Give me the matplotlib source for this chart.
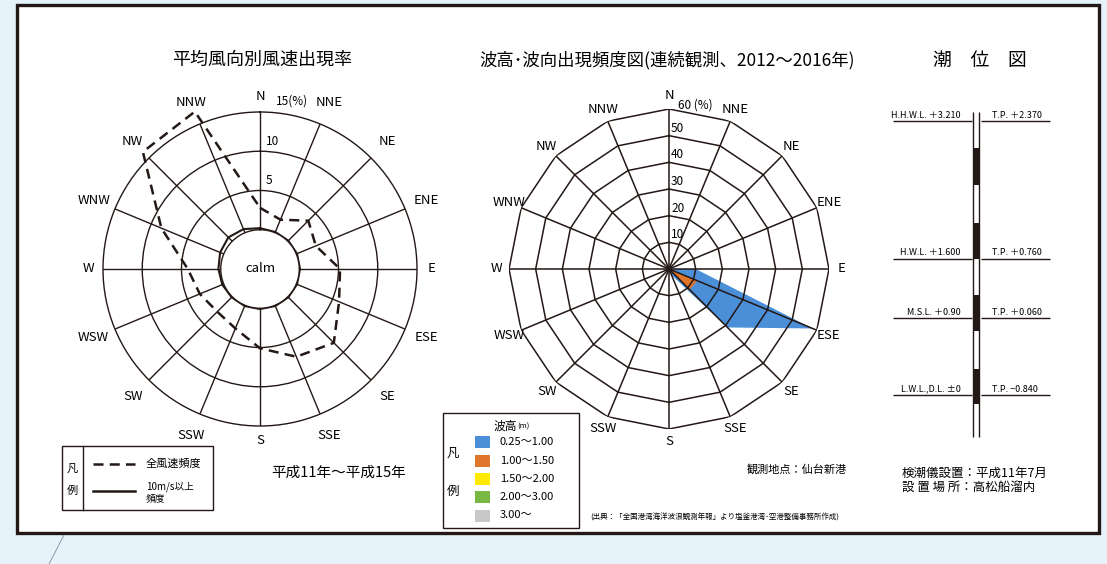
import numpy as np
import matplotlib
matplotlib.use('Agg')
import matplotlib.pyplot as plt
from matplotlib.patches import Rectangle

plt.rcParams['font.family'] = ['Noto Sans CJK JP', 'DejaVu Sans']

# ---- data ----
directions = ['N', 'NNE', 'NE', 'ENE', 'E', 'ESE', 'SE', 'SSE',
              'S', 'SSW', 'SW', 'WSW', 'W', 'WNW', 'NW', 'NNW']

# wind rose (%), calm circle = 0
wind_all = [2.8, 1.8, 3.7, 2.7, 5.2, 5.9, 8.3, 7.1,
            5.1, 3.2, 2.7, 3.3, 4.2, 8.6, 16.1, 16.7]
wind_strong = [0.2, 0.1, 0.1, 0.1, 0.1, 0.1, 0.1, 0.1,
               0.1, 0.1, 0.1, 0.2, 0.3, 0.5, 0.7, 0.5]
wind_rings = [5, 10]

# wave rose (%) per wave height class
wave_classes = ['0.25～1.00', '1.00～1.50', '1.50～2.00', '2.00～3.00', '3.00～']
wave_colors = ['#4a8fd8', '#e0762c', '#ffea00', '#78b843', '#c8c8c8']
wave_025_100 = [0, 0, 0, 0, 9.7, 46.9, 20.0, 2.0, 0.5, 0, 0, 0, 0, 0, 0, 0]
wave_100_150 = [0, 0, 0, 0, 0.3, 10.4, 10.4, 0.5, 0, 0, 0, 0, 0, 0, 0, 0]
wave_150_200 = [0, 0, 0, 0, 0, 1.0, 0.6, 0, 0, 0, 0, 0, 0, 0, 0, 0]
wave_200_300 = [0] * 16
wave_300 = [0] * 16
wave_rings = [10, 20, 30, 40, 50, 60]

# tide levels (D.L. m)
tide_levels = [3.21, 1.60, 0.90, 0.0]
tide_names = ['H.H.W.L. ＋3.210', 'H.W.L. ＋1.600', 'M.S.L. ＋0.90', 'L.W.L.,D.L. ±0']
tide_tp = ['T.P. ＋2.370', 'T.P. ＋0.760', 'T.P. ＋0.060', 'T.P. −0.840']
staff_black = [(2.46, 2.89), (1.60, 2.02), (0.75, 1.17), (-0.10, 0.31)]

W, H = 1107, 564
INK = '#231815'


def box(x0, y0, x1, y1):
    return [x0 / W, 1 - y1 / H, (x1 - x0) / W, (y1 - y0) / H]


def closed(v):
    v = list(v)
    return v + v[:1]


fig = plt.figure(figsize=(W / 100, H / 100), dpi=100, facecolor='#e6f3fb')

# background / frame / free text in pixel coords
ax0 = fig.add_axes([0, 0, 1, 1])
ax0.set_xlim(0, W)
ax0.set_ylim(H, 0)
ax0.axis('off')
ax0.add_patch(Rectangle((17, 5), 1082, 528, fc='white', ec=INK, lw=2.4))
ax0.plot([64, 49], [535, 564], color='#7d8c99', lw=0.6)

ax0.text(262, 60, '平均風向別風速出現率', ha='center', va='center', fontsize=13)
ax0.text(667, 60, '波高･波向出現頻度図(連続観測、2012～2016年)', ha='center', va='center', fontsize=12.5)
ax0.text(980, 60, '潮　位　図', ha='center', va='center', fontsize=13.5)

# wind legend
ax0.add_patch(Rectangle((62, 446), 151, 64, fc='white', ec=INK, lw=1.0))
ax0.plot([83, 83], [446, 510], color=INK, lw=1.0)
ax0.text(72, 469, '凡', ha='center', va='center', fontsize=8)
ax0.text(72, 491, '例', ha='center', va='center', fontsize=8)
ax0.plot([93, 135], [464, 464], color=INK, lw=1.8, ls=(0, (4, 2.5)))
ax0.text(146, 464, '全風速頻度', ha='left', va='center', fontsize=8)
ax0.plot([93, 135], [491, 491], color=INK, lw=1.8)
ax0.text(146, 487, '10m/s以上', ha='left', va='center', fontsize=7)
ax0.text(146, 498, '頻度', ha='left', va='center', fontsize=7)
ax0.text(339, 473, '平成11年～平成15年', ha='center', va='center', fontsize=10.5)

# wave legend
ax0.add_patch(Rectangle((443, 413), 136, 115, fc='white', ec=INK, lw=1.0))
ax0.text(517, 426, '波高', ha='right', va='center', fontsize=8.5)
ax0.text(517, 427, '(m)', ha='left', va='center', fontsize=5.5)
ax0.text(453, 453, '凡', ha='center', va='center', fontsize=9)
ax0.text(453, 491, '例', ha='center', va='center', fontsize=9)
for i, (lab, col) in enumerate(zip(wave_classes, wave_colors)):
    yc = 442.3 + i * 18.3
    ax0.add_patch(Rectangle((474.5, yc - 6), 15.5, 12, fc=col, ec='none'))
    ax0.text(500, yc, lab, ha='left', va='center', fontsize=8)

ax0.text(797, 469, '観測地点：仙台新港', ha='center', va='center', fontsize=8)
ax0.text(715, 518, '(出典：「全国港湾海洋波浪観測年報」より塩釜港湾･空港整備事務所作成)',
         ha='center', va='center', fontsize=5.4)
ax0.text(902, 473, '検潮儀設置：平成11年7月', ha='left', va='center', fontsize=9)
ax0.text(902, 487, '設 置 場 所：高松船溜内', ha='left', va='center', fontsize=9)

theta = np.deg2rad(np.arange(16) * 22.5)
theta_c = closed(theta)

# ---- wind rose ----
ax1 = fig.add_axes(box(103, 112, 417, 426), projection='polar')
ax1.set_theta_zero_location('N')
ax1.set_theta_direction(-1)
ax1.set_rorigin(-5)
ax1.set_ylim(0, 15)
ax1.set_xticks(theta)
ax1.set_xticklabels([])
ax1.set_yticks(wind_rings)
ax1.set_yticklabels([])
ax1.grid(True, color=INK, lw=1.0)
for sp in ax1.spines.values():
    sp.set_color(INK)
    sp.set_linewidth(1.0)

ax1.plot(theta_c, closed(wind_all), color=INK, lw=1.8, ls=(0, (4, 2.5)), clip_on=False)
ax1.plot(theta_c, closed(wind_strong), color=INK, lw=1.5)

for t, name in zip(theta, directions):
    rpx = 172 if name in ('N', 'E', 'S', 'W') else 180
    ax1.text(t, rpx / 157 * 20 - 5, name, ha='center', va='center', fontsize=9.5)
for v in wind_rings:
    ax1.annotate(str(v), xy=(0, v), xytext=(6, 3), textcoords='offset pixels',
                 ha='left', va='bottom', fontsize=8.5)
ax1.annotate('15(%)', xy=(0, 15), xytext=(16, 4), textcoords='offset pixels',
             ha='left', va='bottom', fontsize=8.5)
ax1.text(0, -5, 'calm', ha='center', va='center', fontsize=9.5)

# ---- wave rose ----
ax2 = fig.add_axes(box(509, 109, 829, 429), projection='polar')
ax2.set_theta_zero_location('N')
ax2.set_theta_direction(-1)
ax2.set_ylim(0, 60)
ax2.set_xticks([])
ax2.set_yticks([])
ax2.grid(False)
for sp in ax2.spines.values():
    sp.set_visible(False)
ax2.patch.set_alpha(0)

wave_stack = np.array([wave_025_100, wave_100_150, wave_150_200, wave_200_300, wave_300])
outer = np.cumsum(wave_stack[::-1], axis=0)[::-1]  # higher classes plotted inside
for vals, col in zip(outer, wave_colors):
    if vals.max() > 0:
        ax2.fill(theta_c, closed(vals), color=col, lw=0, zorder=2)

for v in wave_rings:
    ax2.plot(theta_c, [v] * 17, color=INK, lw=1.1, zorder=3)
for t in theta:
    ax2.plot([t, t], [0, 60], color=INK, lw=1.1, zorder=3)
for t, name in zip(theta, directions):
    ax2.text(t, 173 / 160 * 60, name, ha='center', va='center', fontsize=9.5)
for v in wave_rings[:-1]:
    ax2.annotate(str(v), xy=(0, v), xytext=(2, 1), textcoords='offset pixels',
                 ha='left', va='bottom', fontsize=8.5)
ax2.annotate('60 (%)', xy=(0, 60), xytext=(9, -3), textcoords='offset pixels',
             ha='left', va='bottom', fontsize=8.5)

# ---- tide diagram ----
ax3 = fig.add_axes(box(880, 105, 1060, 440))
ax3.set_xlim(0, 180)
ax3.set_ylim(-0.526, 3.399)
ax3.axis('off')
ax3.vlines([92.7, 99.3], -0.487, 3.32, color=INK, lw=1.0)
for b, t in staff_black:
    ax3.fill_betweenx([b, t], 92.7, 99.3, color=INK, lw=0)
ax3.hlines(tide_levels, 12.7, 91.7, color=INK, lw=1.0)
ax3.hlines(tide_levels, 100.7, 170, color=INK, lw=1.0)
for lev, nm, tp in zip(tide_levels, tide_names, tide_tp):
    ax3.annotate(nm, xy=(80.7, lev), xytext=(0, 1.5), textcoords='offset pixels',
                 ha='right', va='bottom', fontsize=6.5)
    ax3.annotate(tp, xy=(111.7, lev), xytext=(0, 1.5), textcoords='offset pixels',
                 ha='left', va='bottom', fontsize=6.5)

fig.savefig('out.png', dpi=100, facecolor=fig.get_facecolor())
